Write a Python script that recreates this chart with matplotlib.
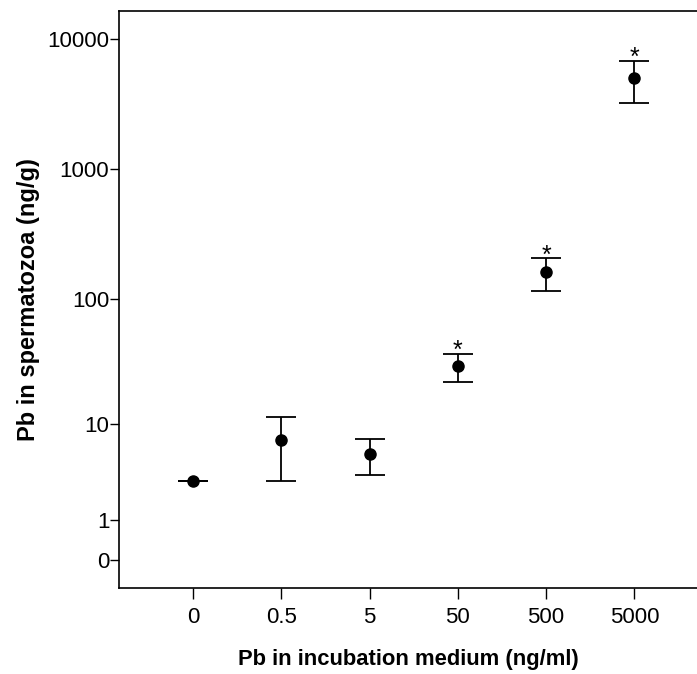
"""Pb uptake by spermatozoa vs Pb concentration in the incubation medium.

Mean with error bars on a log10(y + 1) axis; * marks significant groups.
Writes out.png.
"""

import numpy as np
import matplotlib

matplotlib.use("Agg")
import matplotlib.pyplot as plt

plt.rcParams["font.family"] = ["Liberation Sans", "DejaVu Sans"]

DOSES = ["0", "0.5", "5", "50", "500", "5000"]
MEAN = [3.0, 7.3, 5.5, 29.8, 161, 5070]
LOWER = [3.0, 3.0, 3.5, 22.1, 115, 3250]
UPPER = [3.0, 11.6, 7.5, 37.4, 206, 6840]
SIGNIF = [False, False, False, True, True, True]
Y_TICKS = [0, 1, 10, 100, 1000, 10000]


def fwd(y):
    return np.log10(np.asarray(y, dtype=float) + 1)


def inv(v):
    return 10 ** np.asarray(v, dtype=float) - 1


def main() -> None:
    fig = plt.figure(figsize=(6.97, 6.74), dpi=100)
    ax = fig.add_axes([119 / 697, 1 - 588 / 674, 1 - 119 / 697, 577 / 674])
    ax.set_yscale("function", functions=(fwd, inv))

    xs = np.arange(len(DOSES))
    mean = np.array(MEAN)
    yerr = [mean - np.array(LOWER), np.array(UPPER) - mean]
    ax.errorbar(xs, mean, yerr=yerr, fmt="o", color="black", ms=8,
                elinewidth=1.3, capsize=11, capthick=1.3)
    for x, top, sig in zip(xs, UPPER, SIGNIF):
        if sig:
            ax.annotate("*", (x, top), xytext=(0, -3), textcoords="offset points",
                        ha="center", va="baseline", fontsize=18)

    ax.set_xlim(-0.84, 5.71)
    ax.set_ylim(inv(-0.218), inv(4.218))
    ax.set_xticks(xs, DOSES)
    ax.set_yticks(Y_TICKS, [str(t) for t in Y_TICKS])
    ax.minorticks_off()
    ax.tick_params(axis="both", labelsize=16, width=1, color="black")
    ax.tick_params(axis="y", length=6.5, pad=0.5)
    ax.tick_params(axis="x", length=8, pad=6)
    ax.spines["right"].set_visible(False)
    for s in ("left", "top", "bottom"):
        ax.spines[s].set_linewidth(1.2)

    ax.set_xlabel("Pb in incubation medium (ng/ml)", fontsize=15.8,
                  fontweight="bold", labelpad=15)
    ax.set_ylabel("Pb in spermatozoa (ng/g)", fontsize=17,
                  fontweight="bold", labelpad=5)

    fig.savefig("out.png", dpi=100)


if __name__ == "__main__":
    main()
